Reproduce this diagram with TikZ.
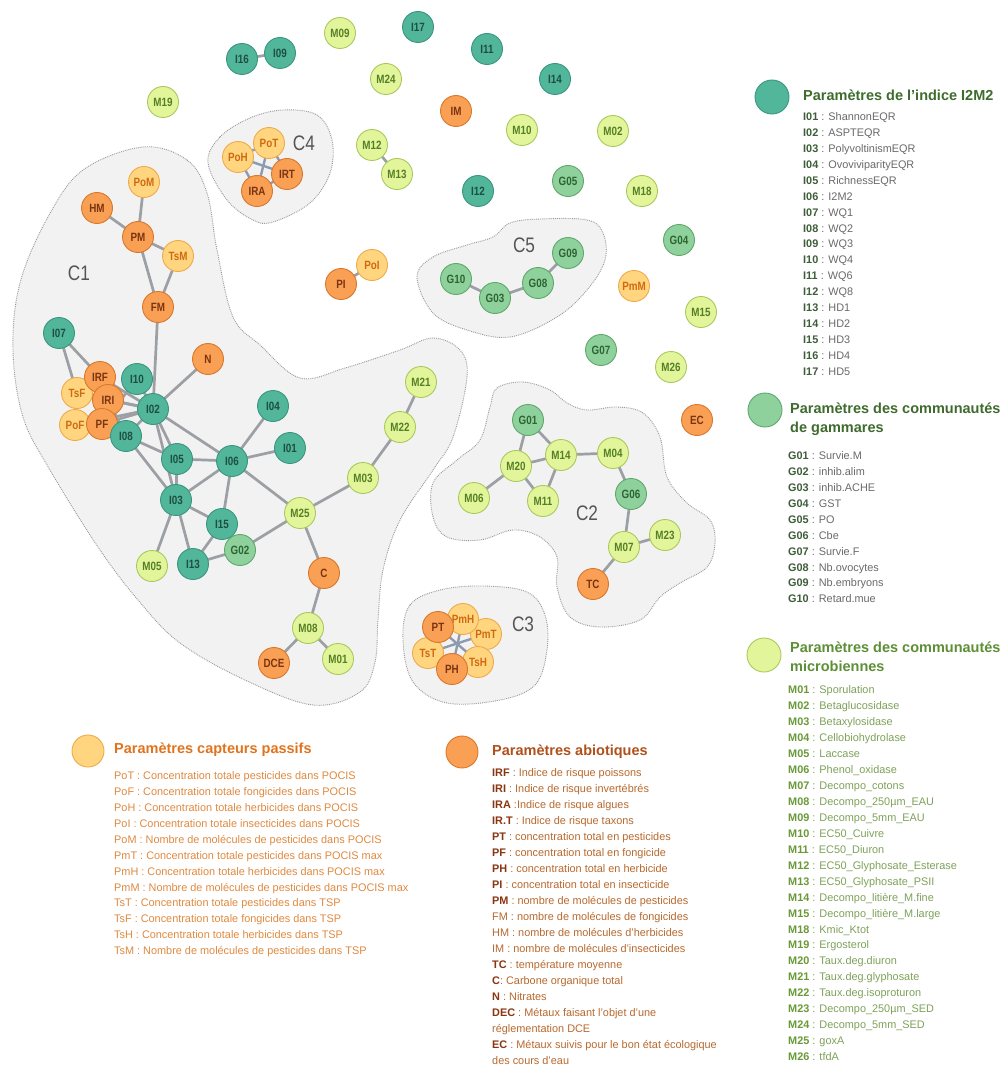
\documentclass[tikz,border=0pt]{standalone}
\usepackage{fontspec}
\setmainfont{Liberation Sans}
\newfontfamily\nar[FakeStretch=0.82]{Liberation Sans}
\newfontfamily\narl[FakeStretch=0.99]{Liberation Sans}
\usetikzlibrary{backgrounds}
\pgfdeclarelayer{bgwhite}\pgfdeclarelayer{hulls}\pgfdeclarelayer{edges}
\pgfsetlayers{bgwhite,hulls,edges,main}
\definecolor{tealF}{HTML}{52B69B}\definecolor{tealD}{HTML}{3A9680}\definecolor{tealT}{HTML}{1D4F42}
\definecolor{gamF}{HTML}{8FD19C}\definecolor{gamD}{HTML}{5EA86A}\definecolor{gamT}{HTML}{2D6432}
\definecolor{micF}{HTML}{E3F59B}\definecolor{micD}{HTML}{A9C95C}\definecolor{micT}{HTML}{557F26}
\definecolor{pasF}{HTML}{FFD57F}\definecolor{pasD}{HTML}{F0AA4A}\definecolor{pasT}{HTML}{CF6A12}
\definecolor{abiF}{HTML}{F9A055}\definecolor{abiD}{HTML}{D9782C}\definecolor{abiT}{HTML}{7A3412}
\definecolor{hullF}{HTML}{F2F2F2}\definecolor{hullD}{HTML}{9A9A9A}
\definecolor{edgeC}{HTML}{9C9FA3}\definecolor{edgeB}{HTML}{8C9BB0}
\definecolor{clabC}{HTML}{555555}
\definecolor{titG}{HTML}{3F6B2E}\definecolor{labG}{HTML}{3E5E3A}\definecolor{descG}{HTML}{6A6A6A}
\definecolor{titM}{HTML}{5E8F36}\definecolor{labM}{HTML}{6A9A38}\definecolor{descM}{HTML}{7EA25A}
\definecolor{titP}{HTML}{E0741E}\definecolor{descP}{HTML}{E08A40}
\definecolor{titA}{HTML}{B0501A}\definecolor{labA}{HTML}{8A3510}\definecolor{descA}{HTML}{B8692E}
\newcommand\labA[1]{\textcolor{labA}{\bfseries #1}}
\tikzset{
 base/.style={circle, draw, line width=0.9pt, minimum size=31pt, inner sep=0pt, font=\nar\bfseries\fontsize{12}{12}\selectfont},
 inode/.style={base, fill=tealF, draw=tealD, text=tealT},
 gnode/.style={base, fill=gamF, draw=gamD, text=gamT},
 mnode/.style={base, fill=micF, draw=micD, text=micT},
 pnode/.style={base, fill=pasF, draw=pasD, text=pasT},
 anode/.style={base, fill=abiF, draw=abiD, text=abiT},
 lnk/.style={draw=edgeC, line width=2.7pt},
 lnkb/.style={draw=edgeB, line width=2.4pt},
 hull/.style={fill=hullF, draw=hullD, densely dotted, line width=0.9pt},
 clab/.style={font=\nar\fontsize{21}{21}\selectfont, text=clabC},
 keyc/.style={circle, line width=0.9pt, minimum size=34pt, inner sep=0pt},
 ktitle/.style={anchor=west, inner sep=0pt, text height=10.5pt, text depth=3pt, font=\bfseries\fontsize{14.5}{15}\selectfont},
 kent/.style={anchor=west, inner sep=0pt, text height=8pt, text depth=2.5pt, font=\narl\fontsize{11}{11}\selectfont},
}
\begin{document}
\begin{tikzpicture}[x=1pt,y=-1pt]
\useasboundingbox (0,0) rectangle (1004,1067);
\begin{pgfonlayer}{bgwhite}
\fill[white] (0,0) rectangle (1004,1067);
\end{pgfonlayer}
% ---------- hulls ----------
\begin{pgfonlayer}{hulls}
\draw[hull] plot[smooth cycle, tension=0.6] coordinates {(143,147) (187,160) (207,193) (217,250) (233,317) (260,345) (300,378) (345,368) (400,350) (433,338) (460,350) (467,377) (453,437) (433,470) (400,520) (383,570) (378,620) (375,662) (360,692) (313,705) (245,680) (180,643) (138,600) (98,547) (50,470) (23,417) (13,350) (20,283) (48,217) (83,170)};
\draw[hull] plot[smooth cycle, tension=0.6] coordinates {(208,163) (220,137) (250,118) (283,110) (317,115) (332,140) (330,173) (310,203) (273,222) (253,220) (227,200)};
\draw[hull] plot[smooth cycle, tension=0.6] coordinates {(417,277) (433,257) (467,245) (493,237) (510,223) (540,219) (587,220) (603,233) (605,260) (587,290) (557,317) (510,337) (467,330) (433,313)};
\draw[hull] plot[smooth cycle, tension=0.6] coordinates {(497,388) (523,382) (550,390) (567,403) (587,410) (617,407) (643,413) (660,437) (667,477) (687,503) (710,520) (715,543) (707,567) (680,583) (660,597) (640,620) (600,627) (570,617) (557,587) (557,557) (540,537) (513,530) (480,540) (447,537) (433,517) (433,483) (457,460) (480,440) (490,407)};
\draw[hull] plot[smooth cycle, tension=0.6] coordinates {(403,640) (410,605) (440,590) (483,586) (527,592) (545,615) (547,650) (535,685) (500,700) (447,703) (413,682)};
\end{pgfonlayer}
% ---------- cluster labels ----------
\node[clab] (lC1) at (79,273) {C1};
\node[clab] (lC2) at (587,513) {C2};
\node[clab] (lC3) at (523,624) {C3};
\node[clab] (lC4) at (304,143) {C4};
\node[clab] (lC5) at (524,245) {C5};
% ---------- nodes (drawing order matters for overlaps) ----------
\node[mnode] (M19) at (163,102) {M19};
\node[inode] (I16) at (242,59) {I16};
\node[inode] (I09) at (280,53) {I09};
\node[mnode] (M09) at (340,33) {M09};
\node[inode] (I17) at (418,27) {I17};
\node[inode] (I11) at (487,49) {I11};
\node[mnode] (M24) at (386,79) {M24};
\node[inode] (I14) at (555,79) {I14};
\node[anode] (IM) at (456,111) {IM};
\node[mnode] (M10) at (522,130) {M10};
\node[mnode] (M02) at (613,131) {M02};
\node[mnode] (M12) at (372,145) {M12};
\node[mnode] (M13) at (397,174) {M13};
\node[inode] (I12) at (478,191) {I12};
\node[gnode] (G05) at (568,181) {G05};
\node[mnode] (M18) at (642,191) {M18};
\node[gnode] (G04) at (679,240) {G04};
\node[pnode] (PmM) at (634,286) {PmM};
\node[mnode] (M15) at (701,312) {M15};
\node[gnode] (G07) at (601,350) {G07};
\node[mnode] (M26) at (671,367) {M26};
\node[anode] (EC) at (697,420) {EC};
\node[pnode] (PoI) at (372,265) {PoI};
\node[anode] (PI) at (341,284) {PI};
% C4
\node[pnode] (PoH) at (238,157) {PoH};
\node[pnode] (PoT) at (269,143) {PoT};
\node[anode] (IRT) at (287,174) {IRT};
\node[anode] (IRA) at (257,191) {IRA};
% C5
\node[gnode] (G10) at (456,279) {G10};
\node[gnode] (G03) at (495,298) {G03};
\node[gnode] (G08) at (538,283) {G08};
\node[gnode] (G09) at (568,253) {G09};
% C1
\node[pnode] (PoM) at (144,182) {PoM};
\node[anode] (HM) at (97,208) {HM};
\node[anode] (PM) at (138,237) {PM};
\node[pnode] (TsM) at (178,256) {TsM};
\node[anode] (FM) at (158,307) {FM};
\node[inode] (I07) at (59,333) {I07};
\node[anode] (N) at (208,359) {N};
\node[pnode] (TsF) at (77,393) {TsF};
\node[pnode] (PoF) at (75,425) {PoF};
\node[anode] (IRF) at (100,377) {IRF};
\node[anode] (IRI) at (108,400) {IRI};
\node[anode] (PF) at (102,424) {PF};
\node[inode] (I10) at (137,379) {I10};
\node[inode] (I08) at (126,436) {I08};
\node[inode] (I02) at (153,409) {I02};
\node[inode] (I04) at (273,406) {I04};
\node[inode] (I01) at (290,448) {I01};
\node[inode] (I05) at (177,459) {I05};
\node[inode] (I06) at (232,461) {I06};
\node[inode] (I03) at (176,500) {I03};
\node[inode] (I15) at (222,524) {I15};
\node[inode] (I13) at (193,564) {I13};
\node[gnode] (G02) at (240,550) {G02};
\node[mnode] (M05) at (152,566) {M05};
\node[mnode] (M25) at (300,513) {M25};
\node[mnode] (M03) at (363,478) {M03};
\node[mnode] (M22) at (400,427) {M22};
\node[mnode] (M21) at (421,382) {M21};
\node[anode] (C) at (324,573) {C};
\node[mnode] (M08) at (308,628) {M08};
\node[anode] (DCE) at (274,663) {DCE};
\node[mnode] (M01) at (338,659) {M01};
% C2
\node[gnode] (G01) at (528,420) {G01};
\node[mnode] (M14) at (561,455) {M14};
\node[mnode] (M04) at (613,453) {M04};
\node[mnode] (M20) at (516,466) {M20};
\node[mnode] (M06) at (474,498) {M06};
\node[mnode] (M11) at (543,501) {M11};
\node[gnode] (G06) at (631,494) {G06};
\node[mnode] (M23) at (665,535) {M23};
\node[mnode] (M07) at (624,547) {M07};
\node[anode] (TC) at (593,584) {TC};
% C3
\node[pnode] (PmT) at (486,634) {PmT};
\node[pnode] (TsH) at (478,662) {TsH};
\node[pnode] (PmH) at (463,619) {PmH};
\node[pnode] (TsT) at (428,653) {TsT};
\node[anode] (PT) at (438,627) {PT};
\node[anode] (PH) at (452,669) {PH};
% ---------- edges ----------
\begin{pgfonlayer}{edges}
\foreach \a/\b in {I16/I09, M12/M13, PI/PoI,
  PoM/PM, HM/PM, PM/TsM, PM/FM, TsM/FM, FM/I02, N/I02,
  I07/TsF, I07/IRF, I02/IRF, I02/IRI, I02/PF, I02/TsF, I02/PoF, I02/I10, I02/I08, I10/PF, I08/IRI, TsF/PoF,
  I02/I05, I02/I03, I02/I06, I08/I05, I08/I03, I05/I06, I05/I03, I06/I04, I06/I01, I06/I03, I06/I15, I06/M25,
  I03/I15, I03/M05, I03/I13, I15/I13, I15/G02, I13/G02, G02/M25, M25/M03, M03/M22, M22/M21, M25/C, C/M08, M08/DCE, M08/M01,
  G01/M20, G01/M14, M20/M14, M20/M11, M14/M11, M20/M06, M14/M04, M04/G06, G06/M07, M07/M23, M07/TC,
  G10/G03, G03/G08, G08/G09}
  \draw[lnk] (\a.center) -- (\b.center);
\foreach \a/\b in {PoH/IRT, PoT/IRA, PoH/IRA, PoT/IRT, PoH/PoT, IRA/IRT,
  PT/TsH, PmH/PH, PmT/TsT, PT/PmH, PmH/PmT, PmT/TsH, TsH/PH, PH/TsT, TsT/PT}
  \draw[lnkb] (\a.center) -- (\b.center);
\end{pgfonlayer}
% ---------- legend: I2M2 ----------
\node[keyc, fill=tealF, draw=tealD] (kI) at (772,97) {};
\node[ktitle, text=titG] (tI) at (803,97) {Paramètres de l’indice I2M2};
\foreach \a/\b [count=\i from 0] in {I01/ShannonEQR, I02/ASPTEQR, I03/PolyvoltinismEQR, I04/OvoviviparityEQR, I05/RichnessEQR, I06/I2M2, I07/WQ1, I08/WQ2, I09/WQ3, I10/WQ4, I11/WQ6, I12/WQ8, I13/HD1, I14/HD2, I15/HD3, I16/HD4, I17/HD5}
  \node[kent, text=descG] (eI\i) at (803,118+15.9*\i) {\textcolor{labG}{\bfseries\a} : \b};
% ---------- legend: gammares ----------
\node[keyc, fill=gamF, draw=gamD] (kG) at (765,410) {};
\node[ktitle, text=titG] (tG1) at (790,410) {Paramètres des communautés};
\node[ktitle, text=titG] (tG2) at (790,429) {de gammares};
\foreach \a/\b [count=\i from 0] in {G01/Survie.M, G02/inhib.alim, G03/inhib.ACHE, G04/GST, G05/PO, G06/Cbe, G07/Survie.F, G08/Nb.ovocytes, G09/Nb.embryons, G10/Retard.mue}
  \node[kent, text=descG] (eG\i) at (788,457+15.9*\i) {\textcolor{labG}{\bfseries\a} : \b};
% ---------- legend: microbes ----------
\node[keyc, fill=micF, draw=micD] (kM) at (764,655) {};
\node[ktitle, text=titM] (tM1) at (790,649) {Paramètres des communautés};
\node[ktitle, text=titM] (tM2) at (790,668) {microbiennes};
\foreach \a/\b [count=\i from 0] in {M01/Sporulation, M02/Betaglucosidase, M03/Betaxylosidase, M04/Cellobiohydrolase, M05/Laccase, M06/Phenol\_oxidase, M07/Decompo\_cotons, M08/Decompo\_250µm\_EAU, M09/Decompo\_5mm\_EAU, M10/EC50\_Cuivre, M11/EC50\_Diuron, M12/EC50\_Glyphosate\_Esterase, M13/EC50\_Glyphosate\_PSII, M14/Decompo\_litière\_M.fine, M15/Decompo\_litière\_M.large, M18/Kmic\_Ktot, M19/Ergosterol, M20/Taux.deg.diuron, M21/Taux.deg.glyphosate, M22/Taux.deg.isoproturon, M23/Decompo\_250µm\_SED, M24/Decompo\_5mm\_SED, M25/goxA, M26/tfdA}
  \node[kent, text=descM] (eM\i) at (788,691+15.95*\i) {\textcolor{labM}{\bfseries\a} : \b};
% ---------- legend: passive samplers ----------
\node[keyc, fill=pasF, draw=pasD, minimum size=32pt] (kP) at (88,751) {};
\node[ktitle, text=titP] (tP) at (114,750) {Paramètres capteurs passifs};
\foreach \t [count=\i from 0] in {{PoT : Concentration totale pesticides dans POCIS}, {PoF : Concentration totale fongicides dans POCIS}, {PoH : Concentration totale herbicides dans POCIS}, {PoI : Concentration totale insecticides dans POCIS}, {PoM : Nombre de molécules de pesticides dans POCIS}, {PmT : Concentration totale pesticides dans POCIS max}, {PmH : Concentration totale herbicides dans POCIS max}, {PmM : Nombre de molécules de pesticides dans POCIS max}, {TsT : Concentration totale pesticides dans TSP}, {TsF : Concentration totale fongicides dans TSP}, {TsH : Concentration totale herbicides dans TSP}, {TsM : Nombre de molécules de pesticides dans TSP}}
  \node[kent, text=descP] (eP\i) at (114,777+15.9*\i) {\t};
% ---------- legend: abiotic ----------
\node[keyc, fill=abiF, draw=abiD, minimum size=32pt] (kA) at (462,752) {};
\node[ktitle, text=titA] (tA) at (492,752) {Paramètres abiotiques};
\foreach \t [count=\i from 0] in {{\labA{IRF} : Indice de risque poissons}, {\labA{IRI} : Indice de risque invertébrés}, {\labA{IRA} :Indice de risque algues}, {\labA{IR.T} : Indice de risque taxons}, {\labA{PT} : concentration total en pesticides}, {\labA{PF} : concentration total en fongicide}, {\labA{PH} : concentration total en herbicide}, {\labA{PI} : concentration total en insecticide}, {\labA{PM} : nombre de molécules de pesticides}, {FM : nombre de molécules de fongicides}, {HM : nombre de molécules d’herbicides}, {IM : nombre de molécules d’insecticides}, {\labA{TC} : température moyenne}, {\labA{C}: Carbone organique total}, {\labA{N} : Nitrates}, {\labA{DEC} : Métaux faisant l’objet d’une}, {réglementation DCE}, {\labA{EC} : Métaux suivis pour le bon état écologique}, {des cours d’eau}}
  \node[kent, text=descA] (eA\i) at (492,774+16.0*\i) {\t};
\end{tikzpicture}
\end{document}
